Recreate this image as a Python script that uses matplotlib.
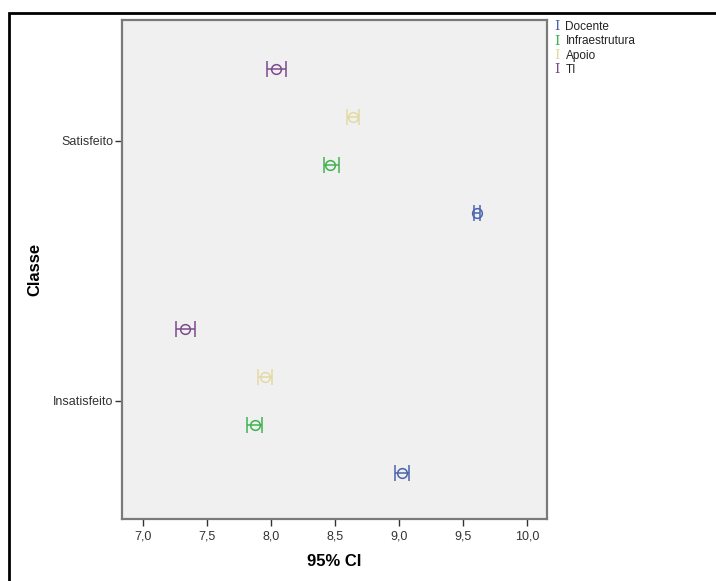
import matplotlib.pyplot as plt
from matplotlib.patches import Rectangle
from matplotlib.ticker import FuncFormatter

# === DATA ===
classes = ["Insatisfeito", "Satisfeito"]
groups = ["Docente", "Infraestrutura", "Apoio", "TI"]
colors = ["#4a64ae", "#3fb34f", "#e3d9a4", "#7d4a8e"]

# mean and 95% CI bounds per group, one entry per class (Insatisfeito, Satisfeito)
docente_mean = [9.02, 9.61]
docente_lo = [8.97, 9.585]
docente_hi = [9.08, 9.635]

infra_mean = [7.875, 8.46]
infra_lo = [7.81, 8.41]
infra_hi = [7.93, 8.53]

apoio_mean = [7.95, 8.64]
apoio_lo = [7.90, 8.59]
apoio_hi = [8.01, 8.69]

ti_mean = [7.33, 8.04]
ti_lo = [7.26, 7.97]
ti_hi = [7.41, 8.115]

means = [docente_mean, infra_mean, apoio_mean, ti_mean]
lows = [docente_lo, infra_lo, apoio_lo, ti_lo]
highs = [docente_hi, infra_hi, apoio_hi, ti_hi]
offsets = [-0.277, -0.092, 0.092, 0.277]

xticks = [7.0, 7.5, 8.0, 8.5, 9.0, 9.5, 10.0]

# === PLOT ===
plt.rcParams["font.family"] = ["Liberation Sans", "DejaVu Sans"]

fig = plt.figure(figsize=(7.16, 5.81), dpi=100)
ax = fig.add_axes([0.1704, 0.1067, 0.5936, 0.8589])
ax.set_facecolor("#f0f0f0")

for i, g in enumerate(groups):
    for j in range(len(classes)):
        m = means[i][j]
        y = j + offsets[i]
        err = [[m - lows[i][j]], [highs[i][j] - m]]
        ax.errorbar([m], [y], xerr=err, fmt="o", color=colors[i],
                    mfc="none", mec=colors[i], ms=7, mew=1.1,
                    elinewidth=1.1, capsize=6, capthick=1.3)

ax.set_xlim(6.836, 10.156)
ax.set_ylim(-0.454, 1.465)
ax.set_xticks(xticks)
ax.xaxis.set_major_formatter(FuncFormatter(lambda v, p: f"{v:.1f}".replace(".", ",")))
ax.set_yticks([0, 1])
ax.set_yticklabels(classes)
ax.tick_params(axis="both", direction="out", length=5, width=1, color="#333333",
               labelsize=9, labelcolor="#333333")
ax.tick_params(axis="y", pad=1)
for s in ax.spines.values():
    s.set_color("#7a7a7a")
    s.set_linewidth(1.6)

ax.set_xlabel("95% CI", fontsize=12, fontweight="bold")
ax.xaxis.set_label_coords(0.5, -0.07)
ax.set_ylabel("Classe", fontsize=12, fontweight="bold")
ax.yaxis.set_label_coords(-0.188, 0.5)

# legend drawn as text at the top right
for k, g in enumerate(groups):
    yy = 1 - (27 + k * 14.3) / 581
    fig.text(557 / 716, yy, "I", family="DejaVu Serif", fontsize=9.5,
             color=colors[k], ha="center", va="center")
    fig.text(565.5 / 716, yy, g, fontsize=8.5, color="#222222", va="center")

# outer frame (cropped export)
fig.patches.append(Rectangle((9 / 716, -0.05), 1.1, 1 - 13 / 581 + 0.05,
                             transform=fig.transFigure, fill=False,
                             edgecolor="black", linewidth=2))

fig.savefig("out.png", dpi=100)
